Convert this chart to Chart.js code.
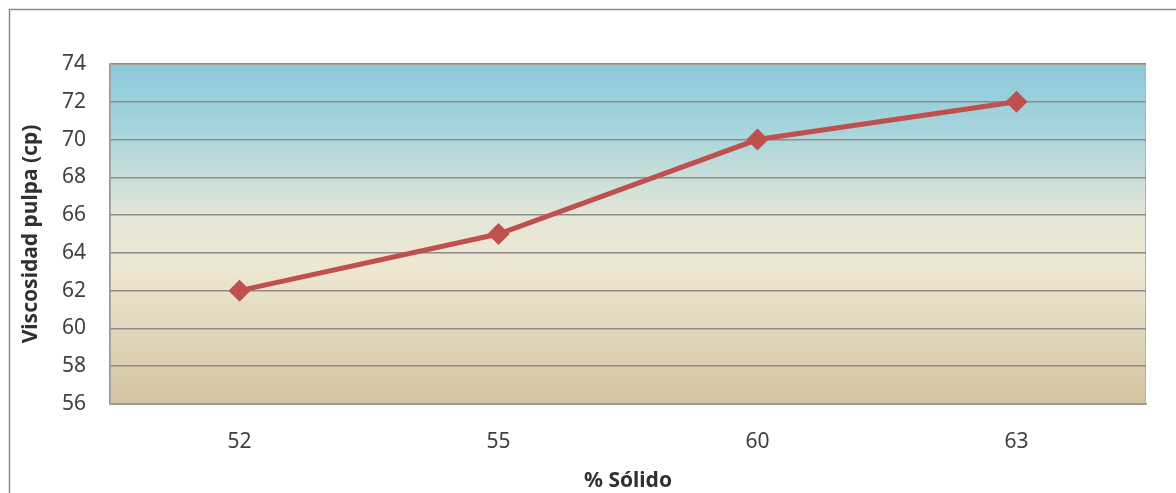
<!DOCTYPE html>
<html>
<head>
<meta charset="utf-8">
<script src="https://cdn.jsdelivr.net/npm/chart.js@4.4.0/dist/chart.umd.min.js"></script>
<style>
  html, body { margin: 0; padding: 0; background: #fff; }
  #wrap { width: 1176px; height: 493px; position: relative; }
</style>
</head>
<body>
<div id="wrap"><canvas id="chart" width="1176" height="493"></canvas></div>
<script>
const solidos = ["52", "55", "60", "63"];
const viscosidad = [62, 65, 70, 72];
const yMin = 56;
const yMax = 74;
const yStep = 2;

const fuente = "'Noto Sans', 'Open Sans', sans-serif";

// fondo degradado del área de trazado + marco exterior
const areaFondo = {
  id: "areaFondo",
  beforeDraw(chart) {
    const { ctx, chartArea: a } = chart;
    ctx.save();
    ctx.strokeStyle = "#8a8a8a";
    ctx.lineWidth = 1.5;
    ctx.strokeRect(9.5, 9.5, 1300, 700);

    const g = ctx.createLinearGradient(0, a.top, 0, a.bottom);
    g.addColorStop(0, "#8cc9da");
    g.addColorStop(0.2, "#a8d5dc");
    g.addColorStop(0.45, "#e4e6d6");
    g.addColorStop(0.6, "#eee7d2");
    g.addColorStop(1, "#d2c3a0");
    ctx.fillStyle = g;
    ctx.fillRect(a.left, a.top, a.right - a.left, a.bottom - a.top);
    ctx.strokeStyle = "#b9b2a2";
    ctx.lineWidth = 1;
    ctx.strokeRect(a.left + 0.5, a.top + 0.5, a.right - a.left - 1, a.bottom - a.top);
    ctx.restore();
  },
};

const ctx = document.getElementById("chart").getContext("2d");
new Chart(ctx, {
  type: "line",
  data: {
    labels: solidos,
    datasets: [
      {
        data: viscosidad,
        borderColor: "#c0504d",
        backgroundColor: "#c0504d",
        borderWidth: 5,
        pointStyle: "rectRot",
        pointRadius: 7.5,
        pointHoverRadius: 7.5,
        tension: 0,
      },
    ],
  },
  options: {
    responsive: false,
    animation: false,
    layout: { padding: { left: 18, right: 30, top: 64, bottom: 0 } },
    plugins: {
      legend: { display: false },
      tooltip: { enabled: false },
    },
    scales: {
      x: {
        offset: true,
        afterFit(scale) { scale.height = 89; },
        grid: { display: false, drawTicks: false },
        border: { display: true, color: "#9a9a9a", width: 1.5 },
        ticks: {
          color: "#404040",
          padding: 25,
          font: { family: fuente, size: 21 },
        },
        title: {
          display: true,
          text: "% Sólido",
          color: "#303030",
          padding: { top: 0, bottom: -1 },
          font: { family: fuente, size: 21, weight: "bold" },
        },
      },
      y: {
        min: yMin,
        max: yMax,
        afterFit(scale) { scale.width = 92; },
        grid: { color: "#8c8c8c", lineWidth: 1.5, drawTicks: false },
        border: { display: true, color: "#9a9a9a", width: 1.5 },
        ticks: {
          stepSize: yStep,
          color: "#404040",
          padding: 24,
          font: { family: fuente, size: 21 },
        },
        title: {
          display: true,
          text: "Viscosidad pulpa (cp)",
          color: "#303030",
          padding: { top: 0, bottom: 4 },
          font: { family: fuente, size: 21, weight: "bold" },
        },
      },
    },
  },
  plugins: [areaFondo],
});
</script>
</body>
</html>
